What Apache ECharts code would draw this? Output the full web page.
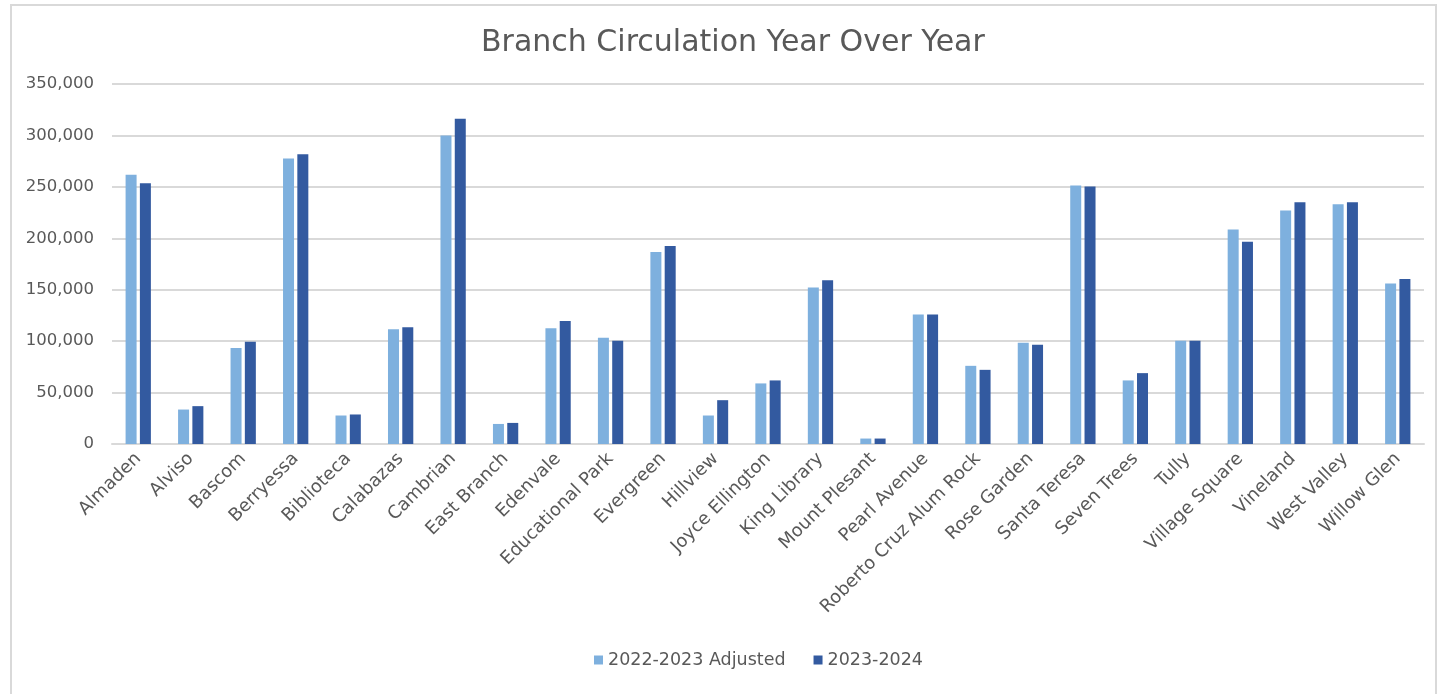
<!DOCTYPE html>
<html><head><meta charset="utf-8">
<script src="https://cdn.jsdelivr.net/npm/echarts@6/dist/echarts.min.js"></script>
<style>
html,body{margin:0;padding:0;background:#fff;}
#frame{position:absolute;left:10px;top:4px;width:1427px;height:700px;border:2px solid #d9d9d9;box-sizing:border-box;}
#c{position:absolute;left:0;top:0;width:1439px;height:694px;}
</style></head>
<body>
<div id="frame"></div>
<div id="c"></div>
<script>
const categories = ["Almaden","Alviso","Bascom","Berryessa","Biblioteca","Calabazas","Cambrian","East Branch","Edenvale","Educational Park","Evergreen","Hillview","Joyce Ellington","King Library","Mount Plesant","Pearl Avenue","Roberto Cruz Alum Rock","Rose Garden","Santa Teresa","Seven Trees","Tully","Village Square","Vineland","West Valley","Willow Glen"];
const fy2223 = [261700,33500,93300,277600,27700,111500,300000,19500,112500,103300,186600,27700,58900,152100,5300,125800,76000,98500,251200,61800,100400,208600,226900,233000,156000];
const fy2324 = [253500,36800,99400,281700,28700,113500,316200,20500,119600,100400,192400,42600,61800,159300,5300,125800,72100,96500,250300,68900,100400,196600,235000,235000,160300];
const seriesNames = ["2022-2023 Adjusted","2023-2024"];
const yTicks = {min:0,max:350000,interval:50000};

const font = "'DejaVu Sans', sans-serif";
const chart = echarts.init(document.getElementById('c'), null, {renderer:'canvas'});
chart.setOption({
  animation:false,
  title:{text:"Branch Circulation Year Over Year",left:476,top:23,
    textStyle:{fontFamily:font,fontSize:30,fontWeight:'normal',color:'#595959'}},
  legend:{bottom:20,left:589,itemWidth:9,itemHeight:9,itemGap:28,icon:'rect',
    textStyle:{fontFamily:font,fontSize:17.5,color:'#595959'},
    data:seriesNames},
  grid:{left:112,right:15,top:84,bottom:250,containLabel:false},
  xAxis:{type:'category',data:categories,
    axisLine:{lineStyle:{color:'#d9d9d9',width:2}},
    axisTick:{show:false},
    axisLabel:{rotate:45,interval:0,fontFamily:font,fontSize:18,color:'#595959',margin:12}},
  yAxis:{type:'value',min:yTicks.min,max:yTicks.max,interval:yTicks.interval,
    axisLine:{show:false},axisTick:{show:false},
    splitLine:{lineStyle:{color:'#d9d9d9',width:2}},
    axisLabel:{fontFamily:font,fontSize:16.5,color:'#595959',margin:18,
      formatter:v=>v.toLocaleString('en-US')}},
  series:[
    {name:seriesNames[0],type:'bar',data:fy2223,barWidth:11,barGap:'30%',
      itemStyle:{color:'#7eb0de'}},
    {name:seriesNames[1],type:'bar',data:fy2324,barWidth:11,
      itemStyle:{color:'#335aa0'}}
  ]
});
</script>
</body></html>
